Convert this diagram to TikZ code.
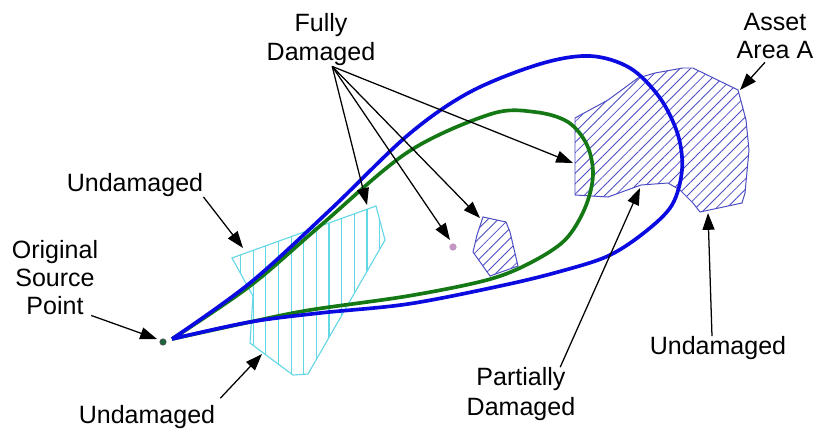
\documentclass[tikz,border=0pt]{standalone}
\usepackage{fontspec}
\setmainfont{Liberation Sans}
\usetikzlibrary{arrows.meta,patterns.meta}
\definecolor{hatchblue}{RGB}{75,75,195}
\definecolor{traceblue}{RGB}{10,10,225}
\definecolor{tracegreen}{RGB}{20,120,20}
\definecolor{zonecyan}{RGB}{100,215,230}
\definecolor{pinkdot}{RGB}{195,150,195}
\definecolor{srcgreen}{RGB}{30,100,60}

\begin{document}
\begin{tikzpicture}[x = 0.025cm, y = -0.025cm,
  lbl/.style = {align = center, inner sep = 0pt, font = \fontsize{17.8}{20.6}\selectfont},
  ptr/.style = {-{Triangle[length = 0.42cm, width = 0.3cm]}, line width = 0.9pt},
  hatcharea/.style = {draw = hatchblue, line width = 0.7pt, pattern = {Lines[angle = 45, distance = 5.2pt, line width = 0.6pt]}, pattern color = hatchblue},
  cyanzone/.style = {draw = zonecyan, line width = 0.8pt, pattern = {Lines[angle = 90, distance = 9pt, line width = 0.8pt]}, pattern color = zonecyan},
  footprint/.style = {line width = 2.6pt, smooth, tension = 0.55, line join = round}]
\useasboundingbox (0,0) rectangle (816,428);
\draw[cyanzone] (232,258) -- (376,206) -- (385,240) -- (308,374) -- (293,375) -- (262,352) -- (250,343) -- (253,296) -- cycle;
\draw[hatcharea] (575,118) -- (608,100) -- (638,78) -- (655,73) -- (683,68) -- (693,68) -- (738,90) -- (746,120) -- (749,150) -- (745,193) -- (742,203) -- (700,212) -- (693,203) -- (680,190) -- (668,183) -- (641,185) -- (608,197) -- (575,195) -- cycle;
\draw[hatcharea] (483,217) -- (506,222) -- (510,232) -- (518,266) -- (490,276) -- (473,252) -- (477,235) -- cycle;
\fill[pinkdot] (453,247) circle[radius = 2.6pt];
\draw[tracegreen, footprint] plot coordinates {(172,339) (250,286) (320,226) (408,152) (491,114) (535,112) (568,122) (587,145) (593,175) (585,208) (565,240) (530,263) (487,280) (408,296) (310,310) (250,322) (172,339)};
\draw[traceblue, footprint] plot coordinates {(172,339) (250,283) (330,210) (408,135) (470,92) (540,64) (590,56) (630,68) (660,98) (678,135) (682,170) (672,205) (645,232) (608,256) (558,272) (500,286) (408,304) (320,313) (250,322) (172,339)};
\filldraw[fill = srcgreen, draw = black!70, line width = 0.4pt] (163,342) circle[radius = 2.3pt];

\node[lbl] (fd) at (321,40) {Fully\\Damaged};
\node[lbl] (assetlbl) at (775,36) {Asset\\Area A};
\node[lbl] (undleft) at (135,185) {Undamaged};
\node[lbl, font = \fontsize{17.8}{19.9}\selectfont] (src) at (55,278) {Original\\Source\\Point};
\node[lbl] (undlow) at (147,417) {Undamaged};
\node[lbl, font = \fontsize{17.8}{21.2}\selectfont] (partial) at (521,394) {Partially\\Damaged};
\node[lbl] (undright) at (718,348) {Undamaged};

\coordinate (cyantop) at (367,205);
\coordinate (pinkpt) at (450,240);
\coordinate (smalltop) at (480,218);
\coordinate (assetleft) at (573,163);
\coordinate (cyanleft) at (243,248);
\coordinate (srcpt) at (157,339);
\coordinate (cyanlow) at (262,354);
\coordinate (notch) at (640,188);
\coordinate (assetlow) at (708,213);
\coordinate (assettop) at (740,90);

\foreach \t in {cyantop, pinkpt, smalltop, assetleft}
  \draw[ptr] ([xshift = 0.28cm]fd.south) -- (\t);
\draw[ptr] (undleft.south east) -- (cyanleft);
\draw[ptr] ([xshift = -0.18cm]src.south east) -- (srcpt);
\draw[ptr] ([xshift = 0.12cm, yshift = 0.17cm]undlow.north east) -- (cyanlow);
\draw[ptr] ([xshift = 0.98cm]partial.north) -- (notch);
\draw[ptr] ([xshift = -0.15cm]undright.north) -- (assetlow);
\draw[ptr] ([xshift = -0.25cm, yshift = -0.07cm]assetlbl.south) -- (assettop);
\end{tikzpicture}
\end{document}
